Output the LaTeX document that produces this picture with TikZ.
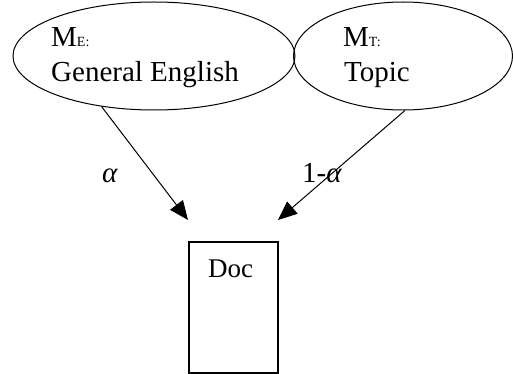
\documentclass[tikz,border=0pt]{standalone}
\usepackage{fontspec}
\setmainfont{Liberation Serif}
\usetikzlibrary{shapes.geometric,arrows.meta}
\tikzset{
  model/.style={draw, ellipse, line width=1pt, inner sep=0pt},
  docbox/.style={draw, rectangle, line width=1.1pt, inner sep=0pt, minimum width=89pt, minimum height=131pt},
  lbl/.style={inner sep=0pt, anchor=base west, font=\fontsize{29}{32}\selectfont},
  conn/.style={line width=1pt, -{Triangle[length=19pt,width=16pt]}}
}
\begin{document}
\begin{tikzpicture}[x=1pt,y=-1pt]
\useasboundingbox (0,0) rectangle (513,374);
\node[model, minimum width=282pt, minimum height=108pt] (ME) at (154,56) {};
\node[model, minimum width=219pt, minimum height=108pt] (MT) at (403,56) {};
\node[lbl] (meh) at (51,47) {M\fontsize{14}{14}\selectfont E:};
\node[lbl] (meb) at (51,82) {General English};
\node[lbl] (mth) at (343,47) {M\fontsize{14}{14}\selectfont T:};
\node[lbl] (mtb) at (344,82) {Topic};
\node[docbox] (doc) at (233.5,307.5) {};
\node[lbl, font=\fontsize{27}{30}\selectfont] (doct) at (208,277) {Doc};
\coordinate (t1) at (188,220);
\coordinate (t2) at (278,220);
\draw[conn] (ME.224) -- (t1);
\draw[conn] (MT.272) -- (t2);
\node[lbl] (alpha) at (102,182) {\itshape α};
\node[lbl] (oma) at (302,182) {1-\itshape α};
\end{tikzpicture}
\end{document}
